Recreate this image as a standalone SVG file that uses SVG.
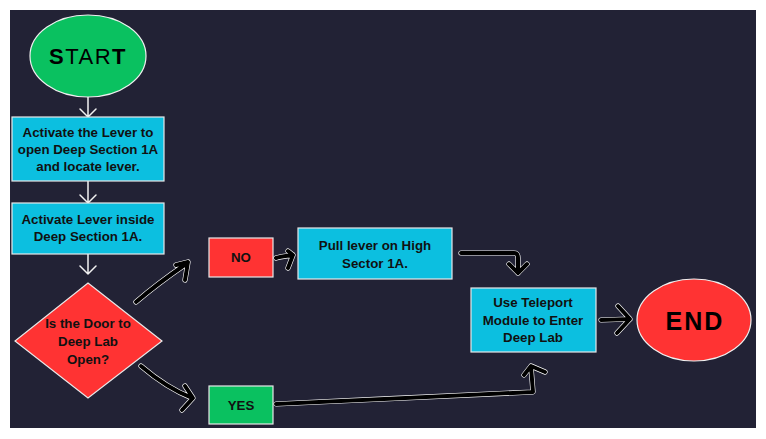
<svg xmlns="http://www.w3.org/2000/svg" width="766" height="439" viewBox="0 0 766 439">
<defs>
<style>
.box{stroke:#e8e8e8;stroke-width:1.2}
.cyan{fill:#0cbfe0}
.red{fill:#ff3333}
.green{fill:#0ac160}
.t{font-family:"Liberation Sans",Arial,sans-serif;font-weight:bold;font-size:13.3px;fill:#111;text-anchor:middle}
.wl{fill:none;stroke:#f2f2f2;stroke-width:1.5;stroke-linecap:round;stroke-linejoin:round}
.halo{fill:none;stroke:#ffffff;stroke-width:5.2;stroke-linecap:round;stroke-linejoin:round}
.ink{fill:none;stroke:#000;stroke-width:4;stroke-linecap:round;stroke-linejoin:round}
</style>
</defs>
<rect x="0" y="0" width="766" height="439" fill="#ffffff"/>
<rect x="10" y="10" width="746" height="418" fill="#222235"/>

<g id="connectors">
<g id="c-start-b1"><path class="wl" d="M88 97 V117 M80 109 L88 117 L96 109"/></g>
<g id="c-b1-b2"><path class="wl" d="M88 181 V203 M80 195 L88 203 L96 195"/></g>
<g id="c-b2-d"><path class="wl" d="M88 254 V274 M80 266 L88 274 L96 266"/></g>
<g id="c-d-no">
<path class="halo" d="M136 302 C150 290 170 275 186 264 M176 265 L188 262 L185 280"/>
<path class="ink" d="M136 302 C150 290 170 275 186 264 M176 265 L188 262 L185 280"/>
</g>
<g id="c-d-yes">
<path class="halo" d="M141 366 C155 378 172 390 192 398 M185 386 L193 398 L182 410"/>
<path class="ink" d="M141 366 C155 378 172 390 192 398 M185 386 L193 398 L182 410"/>
</g>
<g id="c-no-pull">
<path class="halo" d="M276 258 C282 256 288 256 293 255 M288 251 L293 255 L288 268"/>
<path class="ink" d="M276 258 C282 256 288 256 293 255 M288 251 L293 255 L288 268"/>
</g>
<g id="c-pull-tel">
<path class="halo" d="M461 253 L514 253 Q518 253 518 258 L518 273 M509 264 L518 273 L527 264"/>
<path class="ink" d="M461 253 L514 253 Q518 253 518 258 L518 273 M509 264 L518 273 L527 264"/>
</g>
<g id="c-tel-end">
<path class="halo" d="M601 320 L630 319 M618 306 L630 319 L617 333"/>
<path class="ink" d="M601 320 L630 319 M618 306 L630 319 L617 333"/>
</g>
<g id="c-yes-tel">
<path class="halo" d="M276 404 C360 400 450 396 533 392 L531 367 M524 375 L531 366 L545 372"/>
<path class="ink" d="M276 404 C360 400 450 396 533 392 L531 367 M524 375 L531 366 L545 372"/>
</g>
</g>

<g id="start">
<ellipse cx="88" cy="56" rx="58" ry="41" class="green" stroke="#f0f0f0" stroke-width="1.2"/>
<text x="88" y="64" font-family="'Liberation Sans',Arial,sans-serif" font-size="22" text-anchor="middle" letter-spacing="1.5" fill="#000"><tspan font-weight="900">S</tspan><tspan font-weight="normal">TAR</tspan><tspan font-weight="900">T</tspan></text>
</g>

<g id="box1">
<rect x="12" y="117" width="152" height="64" class="box cyan"/>
<text class="t" x="88" y="137">Activate the Lever to</text>
<text class="t" x="88" y="154">open Deep Section 1A</text>
<text class="t" x="88" y="171">and locate lever.</text>
</g>

<g id="box2">
<rect x="12" y="203" width="152" height="51" class="box cyan"/>
<text class="t" x="88" y="224">Activate Lever inside</text>
<text class="t" x="88" y="241">Deep Section 1A.</text>
</g>

<g id="decision">
<polygon points="88,283 162,341 88,398 15,341" class="box red"/>
<text class="t" x="88" y="328">Is the Door to</text>
<text class="t" x="88" y="346">Deep Lab</text>
<text class="t" x="88" y="364">Open?</text>
</g>

<g id="no">
<rect x="209" y="238" width="64" height="39" class="box red"/>
<text class="t" x="241" y="262">NO</text>
</g>

<g id="yes">
<rect x="209" y="386" width="64" height="38" class="box green"/>
<text class="t" x="241" y="410">YES</text>
</g>

<g id="pull">
<rect x="298" y="228" width="154" height="51" class="box cyan"/>
<text class="t" x="375" y="250">Pull lever on High</text>
<text class="t" x="375" y="268">Sector 1A.</text>
</g>

<g id="teleport">
<rect x="471" y="288" width="125" height="64" class="box cyan"/>
<text class="t" x="533" y="307">Use Teleport</text>
<text class="t" x="533" y="325">Module to Enter</text>
<text class="t" x="533" y="342">Deep Lab</text>
</g>

<g id="end">
<ellipse cx="694" cy="320" rx="57" ry="41" class="red" stroke="#f0f0f0" stroke-width="1.2"/>
<text x="695" y="330" font-family="'Liberation Sans',Arial,sans-serif" font-weight="900" font-size="25" text-anchor="middle" letter-spacing="2" fill="#000">END</text>
</g>
</svg>
